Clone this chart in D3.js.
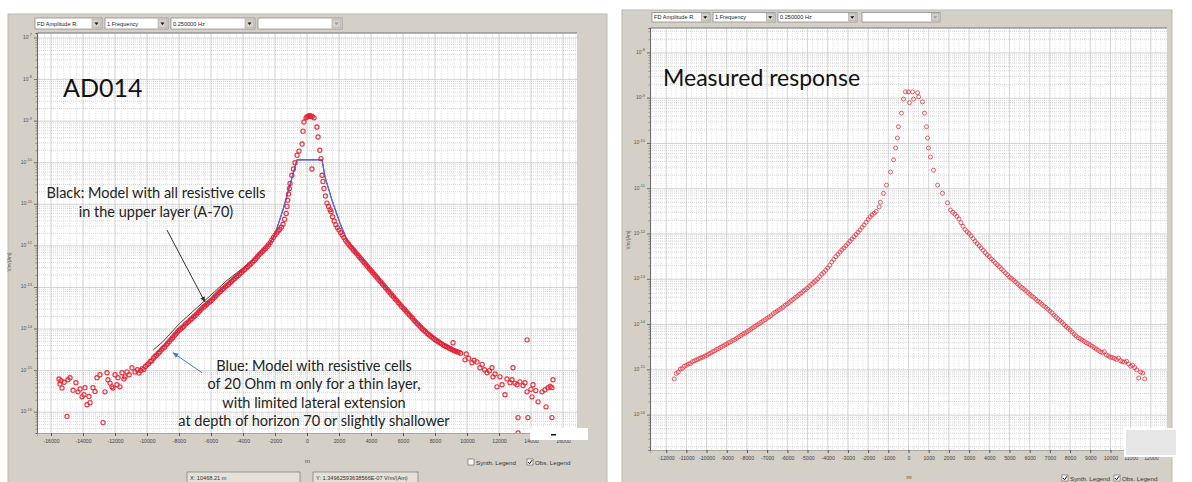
<!DOCTYPE html>
<html>
<head>
<meta charset="utf-8">
<script src="https://cdn.jsdelivr.net/npm/d3@7"></script>
<style>
body { margin: 0; background: #fff; }
svg { display: block; font-family: "Liberation Sans", "DejaVu Sans", sans-serif; }
</style>
</head>
<body>
<svg id="chart" width="1192" height="482"></svg>
<script>
// ---- data (x in m, values as log10 of V/m/(Am)) ----
const sampleStep = 100;

// left panel (AD014), observed points
const leftMainLStart = -10400;
const leftMainL = [
  -15.00, -14.95, -14.97, -14.90, -14.86, -14.83, -14.78, -14.76, -14.70, -14.66,
  -14.63, -14.58, -14.55, -14.50, -14.46, -14.43, -14.38, -14.34, -14.30, -14.25,
  -14.21, -14.16, -14.12, -14.07, -14.03, -14.00, -13.96, -13.93, -13.88, -13.85,
  -13.82, -13.78, -13.75, -13.71, -13.68, -13.64, -13.60, -13.56, -13.52, -13.48,
  -13.45, -13.42, -13.38, -13.35, -13.32, -13.28, -13.24, -13.20, -13.16, -13.12,
  -13.09, -13.05, -13.02, -12.98, -12.95, -12.92, -12.88, -12.85, -12.81, -12.78,
  -12.74, -12.71, -12.67, -12.64, -12.60, -12.57, -12.53, -12.50, -12.46, -12.43,
  -12.39, -12.35, -12.31, -12.26, -12.22, -12.18, -12.14, -12.10, -12.06, -12.02,
  -11.97, -11.92, -11.86, -11.80, -11.74, -11.69, -11.64, -11.60, -11.55, -11.48,
  -11.36, -11.22
];
const leftPeak = [
  [-1250, -11.05], [-1200, -10.90], [-1150, -10.75], [-1100, -10.62], [-1060, -10.50],
  [-950, -10.30], [-850, -10.15], [-750, -10.00], [-620, -9.82], [-500, -9.72],
  [-310, -9.55], [-250, -9.24], [-190, -9.02], [-60, -8.92], [0, -8.90], [60, -8.88],
  [130, -8.88], [190, -8.87], [260, -8.88], [330, -8.89], [440, -8.92], [310, -10.15],
  [620, -9.14], [690, -9.38], [800, -9.70], [875, -9.90], [940, -10.30], [1000, -10.45],
  [1060, -10.62], [1150, -10.80], [1250, -10.97], [1350, -11.05], [1440, -11.13]
];
const leftMainRStart = 1500;
const leftMainR = [
  -11.18, -11.30, -11.40, -11.49, -11.56, -11.62, -11.68, -11.74, -11.80, -11.86,
  -11.91, -11.96, -12.01, -12.05, -12.10, -12.14, -12.19, -12.23, -12.28, -12.32,
  -12.37, -12.41, -12.46, -12.50, -12.55, -12.59, -12.64, -12.68, -12.73, -12.77,
  -12.82, -12.86, -12.91, -12.95, -13.00, -13.04, -13.09, -13.13, -13.18, -13.22,
  -13.27, -13.31, -13.36, -13.40, -13.45, -13.49, -13.53, -13.57, -13.62, -13.66,
  -13.70, -13.74, -13.79, -13.83, -13.87, -13.91, -13.95, -13.99, -14.03, -14.06,
  -14.10, -14.13, -14.16, -14.19, -14.22, -14.25, -14.28, -14.30, -14.33, -14.35,
  -14.38, -14.40, -14.42, -14.44, -14.46, -14.48, -14.50, -14.52, -14.53, -14.55,
  -14.56, -14.58
];
const leftNoiseL = [
  [-15500, -15.20], [-15440, -15.32], [-15375, -15.24], [-15310, -15.42], [-15180, -15.28],
  [-15000, -16.10], [-14940, -15.22], [-14810, -15.17], [-14620, -15.47], [-14440, -15.29],
  [-14310, -15.51], [-14180, -15.44], [-14060, -15.63], [-13940, -15.58], [-13875, -15.41],
  [-13750, -15.82], [-13625, -15.62], [-13560, -15.77], [-13375, -15.41], [-13250, -15.50],
  [-13125, -15.17], [-12940, -15.10], [-12750, -16.25], [-12625, -15.51], [-12500, -15.05],
  [-12440, -15.22], [-12310, -15.30], [-12190, -15.39], [-12125, -15.42], [-12000, -15.10],
  [-11875, -15.34], [-11810, -15.17], [-11690, -15.39], [-11560, -15.05], [-11440, -15.20],
  [-11375, -15.15], [-11250, -15.03], [-11120, -15.10], [-10940, -14.93], [-10750, -15.03],
  [-10600, -14.98], [-10500, -15.06]
];
const leftNoiseR = [
  [9125, -14.33], [9875, -14.74], [9950, -14.60], [10100, -14.70], [10310, -14.81],
  [10450, -14.75], [10625, -14.79], [10810, -14.93], [10950, -14.85], [11100, -14.98],
  [11250, -15.05], [11400, -15.00], [11560, -14.93], [11625, -15.15], [11750, -15.08],
  [11875, -15.39], [12060, -15.15], [12190, -15.34], [12375, -15.58], [12500, -15.20],
  [12690, -15.29], [12810, -15.22], [12875, -14.93], [13000, -15.30], [13125, -15.34],
  [13190, -16.13], [13190, -16.50], [13310, -15.27], [13500, -15.36], [13625, -15.29],
  [13750, -15.51], [13750, -14.26], [13810, -16.13], [14000, -15.45], [14060, -15.63],
  [14125, -15.34], [14300, -15.48], [14440, -15.75], [14690, -15.51], [14875, -15.46],
  [14940, -15.87], [15060, -15.41], [15200, -15.38], [15310, -15.41], [15375, -15.22],
  [15310, -16.13]
];
// left panel model curves
const leftBlue = [
  [-9500, -14.62], [-9000, -14.42], [-8000, -14.02], [-7000, -13.66], [-6000, -13.30],
  [-5000, -12.93], [-4000, -12.58], [-3000, -12.20], [-2300, -11.93], [-2000, -11.72],
  [-1500, -11.13], [-1060, -10.53], [-625, -9.93], [940, -9.93], [1125, -10.34],
  [1560, -10.90], [2060, -11.45], [2500, -11.86], [3000, -12.13], [4000, -12.58],
  [5000, -13.03], [6000, -13.48], [7000, -13.90], [8000, -14.22], [9000, -14.45], [9400, -14.55]
];
const leftBlack = [
  [-9600, -14.50], [-9000, -14.30], [-8000, -13.88], [-7000, -13.53], [-6000, -13.18],
  [-5000, -12.83], [-4000, -12.53], [-3000, -12.20], [-2300, -11.93], [-2000, -11.72],
  [-1500, -11.13], [-1060, -10.53], [-625, -9.93], [940, -9.93], [1125, -10.34],
  [1560, -10.90], [2060, -11.45], [2500, -11.86], [3000, -12.12], [4000, -12.57],
  [5000, -13.02], [6000, -13.47], [7000, -13.89], [8000, -14.22], [9000, -14.46], [9400, -14.55]
];

// right panel (measured response)
const rightMainLStart = -11600;
const rightMainL = [
  -15.20, -15.08, -15.05, -14.98, -14.97, -14.92, -14.90, -14.87, -14.86, -14.82,
  -14.80, -14.78, -14.76, -14.74, -14.72, -14.70, -14.68, -14.65, -14.63, -14.60,
  -14.58, -14.55, -14.53, -14.50, -14.48, -14.45, -14.43, -14.40, -14.38, -14.35,
  -14.33, -14.30, -14.27, -14.24, -14.21, -14.19, -14.16, -14.13, -14.10, -14.07,
  -14.04, -14.01, -13.98, -13.95, -13.92, -13.89, -13.86, -13.83, -13.80, -13.76,
  -13.73, -13.70, -13.67, -13.64, -13.61, -13.57, -13.54, -13.51, -13.47, -13.44,
  -13.40, -13.37, -13.33, -13.30, -13.26, -13.23, -13.19, -13.15, -13.11, -13.07,
  -13.03, -12.99, -12.94, -12.89, -12.85, -12.80, -12.75, -12.69, -12.62, -12.56,
  -12.50, -12.45, -12.40, -12.35, -12.31, -12.26, -12.21, -12.16, -12.11, -12.06,
  -12.01, -11.96, -11.91, -11.85, -11.80, -11.74, -11.68, -11.62, -11.58, -11.54,
  -11.50
];
const rightPeak = [
  [-1450, -11.40], [-1390, -11.30], [-1240, -11.10], [-1090, -10.92], [-890, -10.63],
  [-740, -10.36], [-640, -10.10], [-550, -9.88], [-500, -9.63], [-350, -9.33],
  [-250, -9.02], [-150, -8.86], [0, -8.86], [50, -9.10], [200, -8.86], [250, -9.02],
  [450, -8.88], [500, -8.97], [690, -9.08], [790, -9.33], [890, -9.63], [940, -9.88],
  [990, -10.10], [1090, -10.30], [1240, -10.59], [1440, -10.92], [1680, -11.10],
  [1930, -11.31], [2080, -11.47]
];
const rightMainRStart = 2200;
const rightMainR = [
  -11.52, -11.56, -11.61, -11.67, -11.75, -11.83, -11.90, -11.95, -11.99, -12.04,
  -12.10, -12.16, -12.21, -12.26, -12.31, -12.36, -12.41, -12.46, -12.50, -12.55,
  -12.59, -12.64, -12.68, -12.72, -12.77, -12.81, -12.86, -12.90, -12.95, -12.98,
  -13.02, -13.06, -13.10, -13.14, -13.18, -13.21, -13.25, -13.29, -13.33, -13.37,
  -13.40, -13.44, -13.48, -13.51, -13.55, -13.59, -13.62, -13.66, -13.70, -13.74,
  -13.79, -13.83, -13.87, -13.91, -13.95, -14.00, -14.04, -14.08, -14.12, -14.16,
  -14.21, -14.25, -14.29, -14.31, -14.34, -14.37, -14.40, -14.42, -14.45, -14.48,
  -14.51, -14.54, -14.57, -14.60, -14.62, -14.60, -14.67, -14.69, -14.72, -14.73,
  -14.75, -14.77, -14.74, -14.80, -14.82, -14.83, -14.81, -14.87, -14.92, -14.90,
  -14.95, -15.00, -15.18, -15.05, -15.07, -15.20
];

// axes
const leftXTicks = [-16000, -14000, -12000, -10000, -8000, -6000, -4000, -2000, 0,
  2000, 4000, 6000, 8000, 10000, 12000, 14000, 16000];
const rightXTicks = [-12000, -11000, -10000, -9000, -8000, -7000, -6000, -5000, -4000,
  -3000, -2000, -1000, 0, 1000, 2000, 3000, 4000, 5000, 6000, 7000, 8000, 9000, 10000,
  11000, 12000];
const leftDecades = [-16, -15, -14, -13, -12, -11, -10, -9, -8, -7];
const rightDecades = [-16, -15, -14, -13, -12, -11, -10, -9, -8];
const comboLabels = ['FD Amplitude R.', '1 Frequency', '0.250000 Hz', ''];

// ---- helpers ----
function seriesFrom(start, step, values) {
  return values.map((v, i) => ({ x: start + i * step, v: v }));
}
function pairs(list) {
  return list.map(d => ({ x: d[0], v: d[1] }));
}

const svg = d3.select('#chart');
const GRAY = '#d4d0c8';
const RED = '#e3202f';

// combo box like the toolbar of the tool
function drawCombo(g, x, y, w, h, label, enabled) {
  g.append('rect').attr('x', x).attr('y', y).attr('width', w).attr('height', h)
    .attr('fill', '#fff').attr('stroke', '#808080').attr('stroke-width', 0.7);
  g.append('text').attr('x', x + 2).attr('y', y + h / 2 + 2)
    .attr('font-size', 5.6).attr('fill', '#222').text(label);
  const bw = h - 2;
  const bx = x + w - bw - 1;
  g.append('rect').attr('x', bx).attr('y', y + 1).attr('width', bw).attr('height', bw)
    .attr('fill', GRAY).attr('stroke', '#9a968e').attr('stroke-width', 0.5);
  const cx = bx + bw / 2, cy = y + 1 + bw / 2;
  g.append('path')
    .attr('d', `M${cx - 2},${cy - 1}L${cx + 2},${cy - 1}L${cx},${cy + 1.5}Z`)
    .attr('fill', enabled ? '#111' : '#999');
}

function drawCheck(g, x, y, label, checked) {
  g.append('rect').attr('x', x).attr('y', y).attr('width', 6).attr('height', 6)
    .attr('fill', '#fff').attr('stroke', '#555').attr('stroke-width', 0.6);
  if (checked) {
    g.append('path').attr('d', `M${x + 1},${y + 3}L${x + 2.6},${y + 4.8}L${x + 5},${y + 1.2}`)
      .attr('fill', 'none').attr('stroke', '#111').attr('stroke-width', 1);
  }
  g.append('text').attr('x', x + 8).attr('y', y + 5.5).attr('font-size', 6.2)
    .attr('fill', '#333').text(label);
}

// one panel: frame, toolbar, grid, axes, data
function drawPanel(cfg) {
  const g = svg.append('g');
  const f = cfg.frame, p = cfg.plot;

  g.append('rect').attr('x', f.x).attr('y', f.y).attr('width', f.w).attr('height', f.h)
    .attr('fill', GRAY).attr('stroke', '#bdb9b1').attr('stroke-width', 1);

  // toolbar
  cfg.combos.forEach((c, i) => drawCombo(g, c[0], cfg.comboY, c[1], cfg.comboH, comboLabels[i], i < 3));

  const x = d3.scaleLinear().domain(cfg.xDomain).range([p.x0, p.x1]);
  const y = d3.scaleLog().domain([Math.pow(10, cfg.yDomain[0]), Math.pow(10, cfg.yDomain[1])]).range([p.y1, p.y0]);

  g.append('rect').attr('x', p.x0).attr('y', p.y0).attr('width', p.x1 - p.x0).attr('height', p.y1 - p.y0)
    .attr('fill', '#fff');

  const clipId = 'clip-' + cfg.name;
  svg.append('clipPath').attr('id', clipId).append('rect')
    .attr('x', p.x0).attr('y', p.y0).attr('width', p.x1 - p.x0).attr('height', p.y1 - p.y0);

  const grid = g.append('g').attr('clip-path', `url(#${clipId})`);

  // vertical grid
  const minorX = d3.range(Math.ceil(cfg.xDomain[0] / cfg.minorStep) * cfg.minorStep, cfg.xDomain[1], cfg.minorStep);
  grid.selectAll('.vmin').data(minorX).join('line')
    .attr('x1', d => x(d)).attr('x2', d => x(d)).attr('y1', p.y0).attr('y2', p.y1)
    .attr('stroke', '#c4c4c4').attr('stroke-width', 0.6).attr('stroke-dasharray', '1,1.5');
  grid.selectAll('.vmaj').data(cfg.xTicks).join('line')
    .attr('x1', d => x(d)).attr('x2', d => x(d)).attr('y1', p.y0).attr('y2', p.y1)
    .attr('stroke', '#d0d0d0').attr('stroke-width', 0.8);

  // horizontal grid (log minors)
  const minorY = [];
  for (let e = Math.floor(cfg.yDomain[0]); e <= Math.ceil(cfg.yDomain[1]); e++) {
    for (let k = 2; k <= 9; k++) minorY.push(k * Math.pow(10, e));
  }
  grid.selectAll('.hmin').data(minorY).join('line')
    .attr('x1', p.x0).attr('x2', p.x1).attr('y1', d => y(d)).attr('y2', d => y(d))
    .attr('stroke', '#bdbdbd').attr('stroke-width', 0.6).attr('stroke-dasharray', '1,1');
  grid.selectAll('.hmaj').data(cfg.decades).join('line')
    .attr('x1', p.x0).attr('x2', p.x1).attr('y1', d => y(Math.pow(10, d))).attr('y2', d => y(Math.pow(10, d)))
    .attr('stroke', '#c8c8c8').attr('stroke-width', 0.8);

  // plot border
  g.append('line').attr('x1', p.x0).attr('x2', p.x1).attr('y1', p.y0).attr('y2', p.y0)
    .attr('stroke', '#777').attr('stroke-width', 1);

  // y axis
  const yAxis = g.append('g').attr('transform', `translate(${p.x0},0)`)
    .call(d3.axisLeft(y).tickValues(minorY.filter(v => v >= y.domain()[0] && v <= y.domain()[1]))
      .tickSize(1.5).tickFormat(''));
  yAxis.select('.domain').attr('stroke', '#444').attr('stroke-width', 0.8);
  yAxis.selectAll('.tick line').attr('stroke', '#555').attr('stroke-width', 0.5);
  g.selectAll('.ymaj').data(cfg.decades).join('line')
    .attr('x1', p.x0 - 3).attr('x2', p.x0).attr('y1', d => y(Math.pow(10, d))).attr('y2', d => y(Math.pow(10, d)))
    .attr('stroke', '#444').attr('stroke-width', 0.7);
  const ylab = g.selectAll('.ylab').data(cfg.decades).join('text')
    .attr('x', p.x0 - 5).attr('y', d => y(Math.pow(10, d)) + 1)
    .attr('text-anchor', 'end').attr('font-size', 5).attr('fill', '#555');
  ylab.append('tspan').text('10');
  ylab.append('tspan').attr('dy', -2.5).attr('font-size', 4).text(d => String(d));

  // x axis
  const xAxis = g.append('g').attr('transform', `translate(0,${p.y1})`)
    .call(d3.axisBottom(x).tickValues(cfg.xTicks).tickSize(3).tickPadding(3).tickFormat(d => String(d)));
  xAxis.select('.domain').attr('stroke', '#888').attr('stroke-width', 0.6);
  xAxis.selectAll('.tick line').attr('stroke', '#555');
  xAxis.selectAll('.tick text').attr('font-size', 5.2).attr('fill', '#444')
    .attr('font-family', '"Liberation Sans", sans-serif');

  // model lines
  const line = d3.line().x(d => x(d.x)).y(d => y(Math.pow(10, d.v)));
  const data = g.append('g').attr('clip-path', `url(#${clipId})`);
  (cfg.lines || []).forEach(l => {
    data.append('path').datum(pairs(l.points)).attr('d', line)
      .attr('fill', 'none').attr('stroke', l.color).attr('stroke-width', l.width);
  });

  // observed points
  data.selectAll('circle').data(cfg.points).join('circle')
    .attr('cx', d => x(d.x)).attr('cy', d => y(Math.pow(10, d.v)))
    .attr('r', cfg.r).attr('fill', 'none').attr('stroke', RED)
    .attr('stroke-width', cfg.sw).attr('stroke-opacity', cfg.op);

  // y axis title
  g.append('text').attr('transform', `translate(${cfg.yTitle[0]},${cfg.yTitle[1]}) rotate(-90)`)
    .attr('text-anchor', 'middle').attr('font-size', 4.5).attr('fill', '#555').text('V/m/(Am)');
  g.append('text').attr('x', x(0) - 2).attr('y', cfg.mY).attr('font-size', 6).attr('fill', '#444').text('m');

  return { g, x, y };
}

// ---- left panel ----
const leftPoints = [].concat(
  pairs(leftNoiseL),
  seriesFrom(leftMainLStart, sampleStep, leftMainL),
  pairs(leftPeak),
  seriesFrom(leftMainRStart, sampleStep, leftMainR),
  pairs(leftNoiseR)
);
const L = drawPanel({
  name: 'left',
  frame: { x: 8, y: 14, w: 599, h: 470 },
  plot: { x0: 37, x1: 577, y0: 33, y1: 433 },
  comboY: 18, comboH: 11,
  combos: [[35, 67], [105, 63], [171, 84], [258, 84]],
  xDomain: [-16875, 16875], yDomain: [-16.5, -6.88],
  xTicks: leftXTicks, minorStep: 400, decades: leftDecades,
  lines: [{ points: leftBlack, color: '#444', width: 1 }, { points: leftBlue, color: '#5b63ee', width: 1.3 }],
  points: leftPoints, r: 2.1, sw: 1.15, op: 0.9,
  yTitle: [11, 262], mY: 463
});

// text and arrows in the left panel
const lg = L.g;
lg.append('text').attr('x', 63).attr('y', 97).attr('font-family', 'Lato, sans-serif')
  .attr('font-size', 25).attr('fill', '#111').text('AD014');
const blackNote = ['Black: Model with all resistive cells', 'in the upper layer (A-70)'];
lg.selectAll('.bnote').data(blackNote).join('text')
  .attr('x', 156).attr('y', (d, i) => 198 + i * 19).attr('text-anchor', 'middle')
  .attr('font-family', 'Lato, sans-serif').attr('font-size', 14.5).attr('fill', '#222').text(d => d);
const blueNote = ['Blue: Model with resistive cells', 'of 20 Ohm m only for a thin layer,',
  'with limited lateral extension', 'at depth of horizon 70 or slightly shallower'];
lg.selectAll('.unote').data(blueNote).join('text')
  .attr('x', 314).attr('y', (d, i) => 371 + i * 18.3).attr('text-anchor', 'middle')
  .attr('font-family', 'Lato, sans-serif').attr('font-size', 14.5).attr('fill', '#222').text(d => d);

const defs = svg.append('defs');
[['ahBlack', '#333'], ['ahBlue', '#3b7bd8']].forEach(a => {
  defs.append('marker').attr('id', a[0]).attr('viewBox', '0 0 10 10').attr('refX', 9).attr('refY', 5)
    .attr('markerWidth', 6).attr('markerHeight', 6).attr('orient', 'auto')
    .append('path').attr('d', 'M0,1L10,5L0,9Z').attr('fill', a[1]);
});
// arrows, anchored in data units
const arrows = [
  { from: [-8750, -11.62], to: [-6375, -13.35], color: '#333', marker: 'ahBlack' },
  { from: [-6560, -15.05], to: [-8375, -14.57], color: '#3b7bd8', marker: 'ahBlue' }
];
arrows.forEach(a => {
  lg.append('line')
    .attr('x1', L.x(a.from[0])).attr('y1', L.y(Math.pow(10, a.from[1])))
    .attr('x2', L.x(a.to[0])).attr('y2', L.y(Math.pow(10, a.to[1])))
    .attr('stroke', a.color).attr('stroke-width', 1).attr('marker-end', `url(#${a.marker})`);
});

// white patch over the last x labels, as in the screenshot
lg.append('rect').attr('x', 530).attr('y', 428).attr('width', 58).attr('height', 12).attr('fill', '#fff');
lg.append('rect').attr('x', 551).attr('y', 434).attr('width', 5).attr('height', 1.5).attr('fill', '#111');

// status fields and legend checkboxes
const status = [[187, 113, 'X: 10468.21 m'], [313, 105, 'Y: 1.34962593638566E-07 V/m/(Am)']];
status.forEach(s => {
  lg.append('rect').attr('x', s[0]).attr('y', 472).attr('width', s[1]).attr('height', 12)
    .attr('fill', '#e4e1da').attr('stroke', '#666').attr('stroke-width', 0.6);
  lg.append('text').attr('x', s[0] + 3).attr('y', 479.5).attr('font-size', 5.6).attr('fill', '#333').text(s[2]);
});
drawCheck(lg, 468, 459, 'Synth. Legend', false);
drawCheck(lg, 527, 459, 'Obs. Legend', true);

// ---- right panel ----
const rightPoints = [].concat(
  seriesFrom(rightMainLStart, sampleStep, rightMainL),
  pairs(rightPeak),
  seriesFrom(rightMainRStart, sampleStep, rightMainR)
);
const R = drawPanel({
  name: 'right',
  frame: { x: 622, y: 10, w: 550, h: 474 },
  plot: { x0: 650, x1: 1167, y0: 28, y1: 450 },
  comboY: 12.5, comboH: 9.5,
  combos: [[652, 58], [713, 62], [778, 79], [862, 78]],
  xDomain: [-12800, 12800], yDomain: [-16.77, -7.45],
  xTicks: rightXTicks, minorStep: 250, decades: rightDecades,
  lines: [],
  points: rightPoints, r: 2, sw: 0.9, op: 0.8,
  yTitle: [630, 240], mY: 479
});
const rg = R.g;
rg.append('text').attr('x', 663).attr('y', 86).attr('font-family', 'Lato, sans-serif')
  .attr('font-size', 23).attr('fill', '#111').text('Measured response');
rg.append('rect').attr('x', 1125).attr('y', 429).attr('width', 52).attr('height', 27)
  .attr('fill', '#e6e6e6').attr('stroke', '#fff').attr('stroke-width', 2);
drawCheck(rg, 1062, 475, 'Synth. Legend', true);
drawCheck(rg, 1114, 475, 'Obs. Legend', true);
</script>
</body>
</html>
